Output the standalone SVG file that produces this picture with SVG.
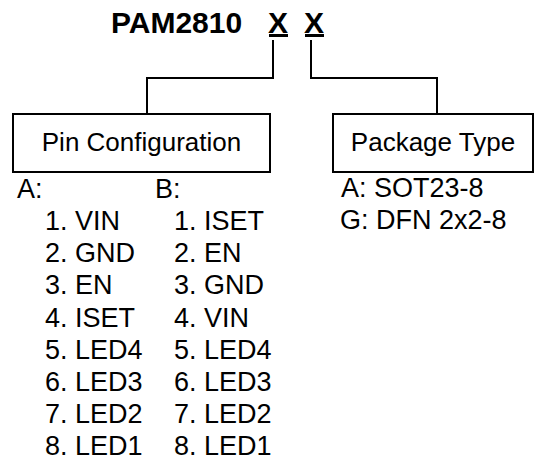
<svg xmlns="http://www.w3.org/2000/svg" width="538" height="466" viewBox="0 0 538 466">
<style>
text{font-family:"Liberation Sans",Arial,sans-serif;fill:#000}
.t{font-size:30px;font-weight:bold}
.b{font-size:26px}
.l{font-size:27px}
.box{fill:#fff;stroke:#000;stroke-width:2}
.c{fill:none;stroke:#000;stroke-width:2}
</style>
<rect width="538" height="466" fill="#fff"/>
<g id="title">
<text class="t" x="111" y="33">PAM2810</text>
<text class="t" x="268" y="33">X</text>
<text class="t" x="304" y="33">X</text>
<rect x="269" y="34" width="19" height="3"/>
<rect x="305" y="34" width="19" height="3"/>
</g>
<g id="connectors">
<polyline class="c" points="273,40 273,78 147,78 147,114"/>
<polyline class="c" points="311,40 311,78 437,78 437,114"/>
</g>
<g id="pin-config">
<rect class="box" x="13" y="114" width="257" height="58"/>
<text class="b" x="141.5" y="151" text-anchor="middle">Pin Configuration</text>
</g>
<g id="package-type">
<rect class="box" x="333" y="114" width="200" height="58"/>
<text class="b" x="433" y="151" text-anchor="middle">Package Type</text>
</g>
<g id="pin-list">
<text class="l" x="17" y="198">A:</text>
<text class="l" x="45" y="230">1. VIN</text>
<text class="l" x="45" y="262">2. GND</text>
<text class="l" x="45" y="294">3. EN</text>
<text class="l" x="45" y="327">4. ISET</text>
<text class="l" x="45" y="359">5. LED4</text>
<text class="l" x="45" y="391">6. LED3</text>
<text class="l" x="45" y="423">7. LED2</text>
<text class="l" x="45" y="455">8. LED1</text>
<text class="l" x="155" y="198">B:</text>
<text class="l" x="174" y="230">1. ISET</text>
<text class="l" x="174" y="262">2. EN</text>
<text class="l" x="174" y="294">3. GND</text>
<text class="l" x="174" y="327">4. VIN</text>
<text class="l" x="174" y="359">5. LED4</text>
<text class="l" x="174" y="391">6. LED3</text>
<text class="l" x="174" y="423">7. LED2</text>
<text class="l" x="174" y="455">8. LED1</text>
</g>
<g id="package-list">
<text class="l" x="341" y="197">A: SOT23-8</text>
<text class="l" x="340" y="229">G: DFN 2x2-8</text>
</g>
</svg>
